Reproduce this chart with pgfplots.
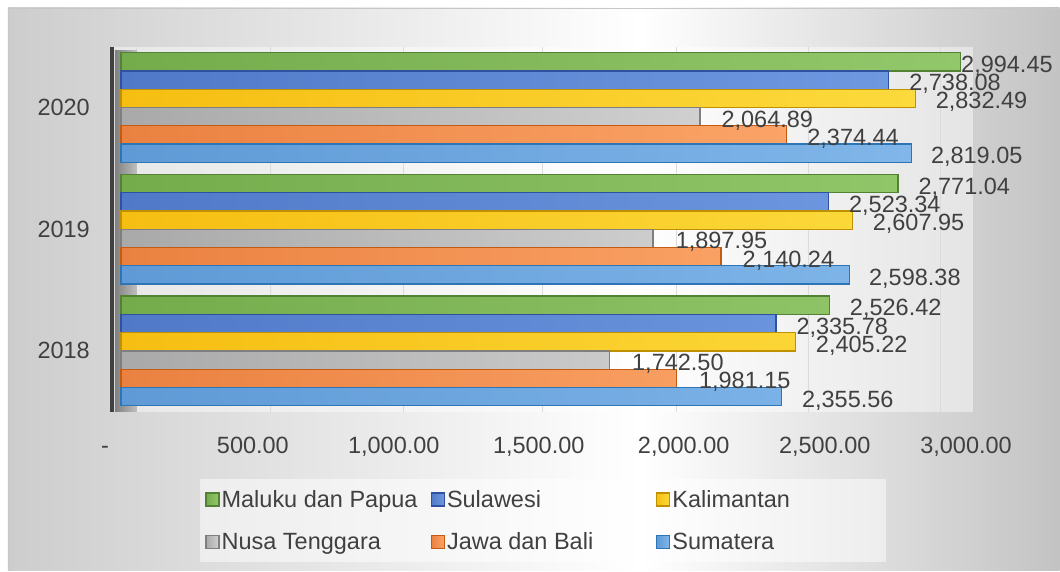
\documentclass[border=0pt]{standalone}
\usepackage{fontspec}
\setmainfont{Liberation Sans}
\usepackage{pgfplots}
\usepackage{pgfplotstable}
\pgfplotsset{compat=1.18}

\definecolor{txt}{HTML}{404040}
\definecolor{bgL}{HTML}{CDCDCD}
\definecolor{bgR}{HTML}{C3C3C3}
\definecolor{gL}{HTML}{74AC4C}\definecolor{gR}{HTML}{93C76B}\definecolor{gD}{HTML}{548235}
\definecolor{bL}{HTML}{5079C8}\definecolor{bR}{HTML}{6E98E0}\definecolor{bD}{HTML}{2F52A0}
\definecolor{yL}{HTML}{F6BE12}\definecolor{yR}{HTML}{FCDA3C}\definecolor{yD}{HTML}{BF9000}
\definecolor{aL}{HTML}{A9A9A9}\definecolor{aR}{HTML}{D0D0D0}\definecolor{aD}{HTML}{7F7F7F}
\definecolor{oL}{HTML}{EA8140}\definecolor{oR}{HTML}{FBA468}\definecolor{oD}{HTML}{C55A11}
\definecolor{sL}{HTML}{5F9AD6}\definecolor{sR}{HTML}{80B6E9}\definecolor{sD}{HTML}{2E75B6}

% columns: y = category (0=2018,1=2019,2=2020), v = value, s = label shift (pt)
\pgfplotstableread{
y v s
0 2526.42 20
1 2771.04 20
2 2994.45 0
}\tabMaluku
\pgfplotstableread{
y v s
0 2335.78 20
1 2523.34 20
2 2738.08 20
}\tabSulawesi
\pgfplotstableread{
y v s
0 2405.22 20
1 2607.95 20
2 2832.49 20
}\tabKalimantan
\pgfplotstableread{
y v s
0 1742.50 22
1 1897.95 22
2 2064.89 21
}\tabNusa
\pgfplotstableread{
y v s
0 1981.15 22
1 2140.24 21
2 2374.44 20
}\tabJawa
\pgfplotstableread{
y v s
0 2355.56 20
1 2598.38 19
2 2819.05 19
}\tabSumatera

\begin{document}
\begin{tikzpicture}[font=\fontsize{23.5}{28}\selectfont]
% chart area background
\fill[white] (0pt,0pt) rectangle (1060pt,571pt);
\shade[left color=bgL, right color=white] (8pt,0pt) rectangle (640pt,563pt);
\shade[left color=white, right color=bgR] (640pt,0pt) rectangle (1060pt,563pt);
\draw[black!22, line width=0.8pt] (8pt,0pt) -- (8pt,563pt) -- (1060pt,563pt);

\begin{axis}[
  at={(112pt,159.1pt)}, anchor=south west,
  scale only axis, width=861.7pt, height=365.25pt,
  xmin=-32, xmax=3040, ymin=-0.5, ymax=2.5,
  axis background/.style={fill=white, fill opacity=0.45},
  axis x line*=bottom, axis y line*=left,
  x axis line style={draw=none},
  y axis line style={-, draw=txt, line width=4pt},
  major tick length=0pt,
  /pgf/number format/assume math mode=true,
  xtick={-32,470.6,973,1490,2007,2510,3014},
  xticklabels={\makebox[0pt][r]{-\hspace{3pt}},500.00,{1,000.00},{1,500.00},{2,000.00},{2,500.00},{3,000.00}},
  xticklabel style={anchor=base, yshift=-42pt, inner sep=0pt, text=txt},
  extra x ticks={57,535,1009,1504,1982,2453,2923},
  extra x tick labels={},
  extra x tick style={grid=major, major grid style={draw=black!14, line width=1pt}},
  ytick={0,1,2},
  yticklabels={2018,2019,2020},
  yticklabel style={anchor=east, inner sep=0pt, xshift=-22pt, text=txt},
  /pgf/bar width=0.15,
  point meta=x,
  visualization depends on={\thisrow{s}\as\lblshift},
  nodes near coords={\pgfmathprintnumber[fixed,fixed zerofill,precision=2,1000 sep={,}]{\pgfplotspointmeta}},
  every node near coord/.append style={anchor=base west, inner sep=0pt, xshift=\lblshift pt, text=txt},
  legend columns=3,
  legend cell align=left,
  legend style={at={(0.1021,-0.1837)}, anchor=north west, draw=none,
    fill=white, fill opacity=0.5, text opacity=1, text=txt,
    inner xsep=5pt, inner ysep=9pt, row sep=20pt},
  legend image code/.code={\draw[#1, fill opacity=1, line width=1.5pt] (0pt,-6.5pt) rectangle (13pt,6.5pt);},
]
\shade[left color=black!50, right color=black!25] (axis cs:-22,-0.5) rectangle (axis cs:57,2.47);

\addplot[xbar, bar shift=0.375, draw=gD, line width=1.3pt, left color=gL, right color=gR,
  every node near coord/.append style={yshift=35.2pt}]
  table[x=v, y=y] {\tabMaluku};
\addlegendentry{\makebox[207pt][l]{Maluku dan Papua}}
\addplot[xbar, bar shift=0.225, draw=bD, line width=1.3pt, left color=bL, right color=bR,
  every node near coord/.append style={yshift=16.9pt}]
  table[x=v, y=y] {\tabSulawesi};
\addlegendentry{\makebox[207pt][l]{Sulawesi}}
\addplot[xbar, bar shift=0.075, draw=yD, line width=1.3pt, left color=yL, right color=yR,
  every node near coord/.append style={yshift=-1.4pt}]
  table[x=v, y=y] {\tabKalimantan};
\addlegendentry{\makebox[207pt][l]{Kalimantan}}
\addplot[xbar, bar shift=-0.075, draw=aD, line width=1.3pt, left color=aL, right color=aR,
  every node near coord/.append style={yshift=-19.6pt}]
  table[x=v, y=y] {\tabNusa};
\addlegendentry{\makebox[207pt][l]{Nusa Tenggara}}
\addplot[xbar, bar shift=-0.225, draw=oD, line width=1.3pt, left color=oL, right color=oR,
  every node near coord/.append style={yshift=-37.9pt}]
  table[x=v, y=y] {\tabJawa};
\addlegendentry{\makebox[207pt][l]{Jawa dan Bali}}
\addplot[xbar, bar shift=-0.375, draw=sD, line width=1.3pt, left color=sL, right color=sR,
  every node near coord/.append style={yshift=-56.2pt}]
  table[x=v, y=y] {\tabSumatera};
\addlegendentry{\makebox[207pt][l]{Sumatera}}
\end{axis}
\end{tikzpicture}
\end{document}
